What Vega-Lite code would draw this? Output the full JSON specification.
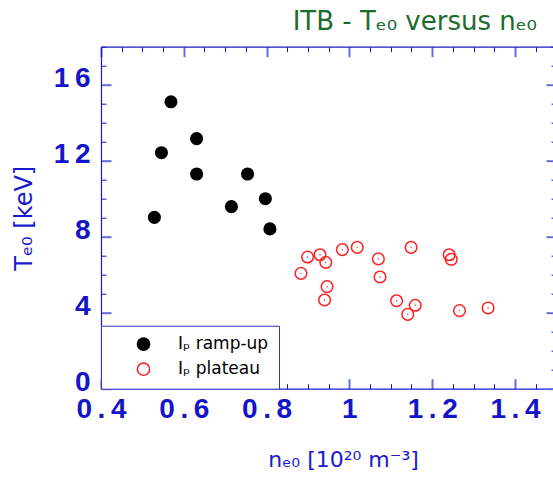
{
  "$schema": "https://vega.github.io/schema/vega-lite/v6.json",
  "width": 452,
  "height": 342,
  "autosize": {"type": "none"},
  "padding": {"left": 101, "top": 46.7, "right": 0, "bottom": 88.3},
  "title": {
    "text": "ITB - Tₑ₀ versus nₑ₀",
    "anchor": "end",
    "frame": "group",
    "font": "DejaVu Sans",
    "fontSize": 26,
    "fontWeight": "normal",
    "color": "#1c6b2f",
    "dx": -16,
    "dy": 46,
    "offset": 17,
    "baseline": "alphabetic"
  },
  "data": {
    "values": [
      {"n": 0.569, "T": 15.1, "phase": "Iₚ ramp-up"},
      {"n": 0.631, "T": 13.16, "phase": "Iₚ ramp-up"},
      {"n": 0.546, "T": 12.42, "phase": "Iₚ ramp-up"},
      {"n": 0.631, "T": 11.3, "phase": "Iₚ ramp-up"},
      {"n": 0.754, "T": 11.3, "phase": "Iₚ ramp-up"},
      {"n": 0.797, "T": 10.0, "phase": "Iₚ ramp-up"},
      {"n": 0.715, "T": 9.58, "phase": "Iₚ ramp-up"},
      {"n": 0.529, "T": 9.02, "phase": "Iₚ ramp-up"},
      {"n": 0.808, "T": 8.41, "phase": "Iₚ ramp-up"},
      {"n": 0.883, "T": 6.07, "phase": "Iₚ plateau"},
      {"n": 0.899, "T": 6.93, "phase": "Iₚ plateau"},
      {"n": 0.929, "T": 7.05, "phase": "Iₚ plateau"},
      {"n": 0.943, "T": 6.65, "phase": "Iₚ plateau"},
      {"n": 0.946, "T": 5.37, "phase": "Iₚ plateau"},
      {"n": 0.940, "T": 4.67, "phase": "Iₚ plateau"},
      {"n": 0.983, "T": 7.32, "phase": "Iₚ plateau"},
      {"n": 1.019, "T": 7.44, "phase": "Iₚ plateau"},
      {"n": 1.070, "T": 6.83, "phase": "Iₚ plateau"},
      {"n": 1.074, "T": 5.88, "phase": "Iₚ plateau"},
      {"n": 1.114, "T": 4.63, "phase": "Iₚ plateau"},
      {"n": 1.149, "T": 7.44, "phase": "Iₚ plateau"},
      {"n": 1.141, "T": 3.91, "phase": "Iₚ plateau"},
      {"n": 1.159, "T": 4.39, "phase": "Iₚ plateau"},
      {"n": 1.241, "T": 7.05, "phase": "Iₚ plateau"},
      {"n": 1.246, "T": 6.81, "phase": "Iₚ plateau"},
      {"n": 1.266, "T": 4.11, "phase": "Iₚ plateau"},
      {"n": 1.335, "T": 4.25, "phase": "Iₚ plateau"}
    ]
  },
  "layer": [
    {
      "mark": {"type": "circle", "size": 135, "strokeWidth": 1.5, "opacity": 1},
      "encoding": {
        "x": {
          "field": "n",
          "type": "quantitative",
          "scale": {"domain": [0.4, 1.4918], "nice": false, "zero": false},
          "axis": {
            "orient": "bottom",
            "title": "nₑ₀ [10²⁰ m⁻³]",
            "titleFont": "DejaVu Sans",
            "titleX": 242,
            "titleY": 60.6,
            "titleFontSize": 22,
            "titleFontWeight": "normal",
            "titleColor": "#1a1acf",
            "values": [0.4, 0.45, 0.5, 0.55, 0.6, 0.65, 0.7, 0.75, 0.8, 0.85, 0.9, 0.95, 1, 1.05, 1.1, 1.15, 1.2, 1.25, 1.3, 1.35, 1.4, 1.45],
            "labelExpr": "round(datum.value * 20) % 4 == 0 ? join(split(format(datum.value, '~g'), ''), '\u2009') : ''",
            "labelOverlap": false,
            "labelFlush": false,
            "labelFontSize": 28,
            "labelFontWeight": "bold",
            "labelColor": "#1414c8",
            "labelPadding": 17,
            "tickSize": {"condition": {"test": "round(datum.value * 20) % 4 == 0", "value": -10}, "value": -5},
            "tickColor": {"condition": {"test": "round(datum.value * 20) % 4 == 0", "value": "#6a6ae0"}, "value": "#1515cc"},
            "tickWidth": {"condition": {"test": "round(datum.value * 20) % 4 == 0", "value": 2}, "value": 1}
          }
        },
        "y": {
          "field": "T",
          "type": "quantitative",
          "scale": {"domain": [0, 18], "nice": false},
          "axis": {
            "orient": "left",
            "title": "Tₑ₀ [keV]",
            "titleFont": "DejaVu Sans",
            "titleFontSize": 24,
            "titleFontWeight": "normal",
            "titleColor": "#1a1acf",
            "titlePadding": 17,
            "values": [0, 1, 2, 3, 4, 5, 6, 7, 8, 9, 10, 11, 12, 13, 14, 15, 16, 17, 18],
            "labelExpr": "datum.value % 4 == 0 ? join(split(format(datum.value, 'd'), ''), '\u2009') : ''",
            "labelOverlap": false,
            "labelFlush": false,
            "labelFontSize": 28,
            "labelFontWeight": "bold",
            "labelColor": "#1414c8",
            "labelPadding": 21,
            "labelOffset": -6,
            "tickSize": {"condition": {"test": "datum.value % 4 == 0", "value": -10}, "value": -5},
            "tickColor": {"condition": {"test": "datum.value % 4 == 0", "value": "#6a6ae0"}, "value": "#1515cc"},
            "tickWidth": {"condition": {"test": "datum.value % 4 == 0", "value": 2}, "value": 1}
          }
        },
        "fill": {
          "field": "phase",
          "type": "nominal",
          "scale": {"domain": ["Iₚ ramp-up", "Iₚ plateau"], "range": ["black", "transparent"]},
          "legend": {
            "orient": "bottom-left",
            "offset": 0,
            "title": null,
            "padding": 10,
            "symbolOffset": 24,
            "labelOffset": 26,
            "symbolSize": 150,
            "symbolStrokeWidth": 1.5,
            "symbolType": "circle",
            "labelFont": "DejaVu Sans",
            "labelFontSize": 17,
            "rowPadding": 6,
            "fillColor": "white",
            "strokeColor": "#3535cc",
            "encode": {
              "labels": {
                "update": {
                  "fill": {"signal": "indexof(datum.label, 'plateau') >= 0 ? '#ff1f1f' : 'black'"}
                }
              }
            }
          }
        },
        "stroke": {
          "field": "phase",
          "type": "nominal",
          "scale": {"domain": ["Iₚ ramp-up", "Iₚ plateau"], "range": ["black", "#ff2020"]}
        }
      }
    },
    {
      "transform": [{"filter": "indexof(datum.phase, 'plateau') >= 0"}],
      "mark": {"type": "circle", "size": 2, "color": "#ff2020", "opacity": 1},
      "encoding": {
        "x": {
          "field": "n",
          "type": "quantitative",
          "axis": {
            "orient": "top",
            "title": null,
            "labels": false,
            "values": [0.4, 0.45, 0.5, 0.55, 0.6, 0.65, 0.7, 0.75, 0.8, 0.85, 0.9, 0.95, 1, 1.05, 1.1, 1.15, 1.2, 1.25, 1.3, 1.35, 1.4, 1.45],
            "tickSize": {"condition": {"test": "round(datum.value * 20) % 4 == 0", "value": -10}, "value": -5},
            "tickColor": {"condition": {"test": "round(datum.value * 20) % 4 == 0", "value": "#6a6ae0"}, "value": "#1515cc"},
            "tickWidth": {"condition": {"test": "round(datum.value * 20) % 4 == 0", "value": 2}, "value": 1}
          }
        },
        "y": {
          "field": "T",
          "type": "quantitative",
          "axis": {
            "orient": "right",
            "title": null,
            "labels": false,
            "domain": false,
            "offset": 3,
            "values": [0, 1, 2, 3, 4, 5, 6, 7, 8, 9, 10, 11, 12, 13, 14, 15, 16, 17, 18],
            "tickSize": {"condition": {"test": "datum.value % 4 == 0", "value": -10}, "value": -5},
            "tickColor": {"condition": {"test": "datum.value % 4 == 0", "value": "#6a6ae0"}, "value": "#1515cc"},
            "tickWidth": {"condition": {"test": "datum.value % 4 == 0", "value": 2}, "value": 1}
          }
        }
      }
    }
  ],
  "resolve": {"axis": {"x": "independent", "y": "independent"}},
  "config": {
    "font": "Liberation Sans",
    "view": {"stroke": null},
    "axis": {"grid": false, "domainColor": "#1a1acc", "domainWidth": 1.2, "labelFont": "Liberation Sans"}
  }
}
